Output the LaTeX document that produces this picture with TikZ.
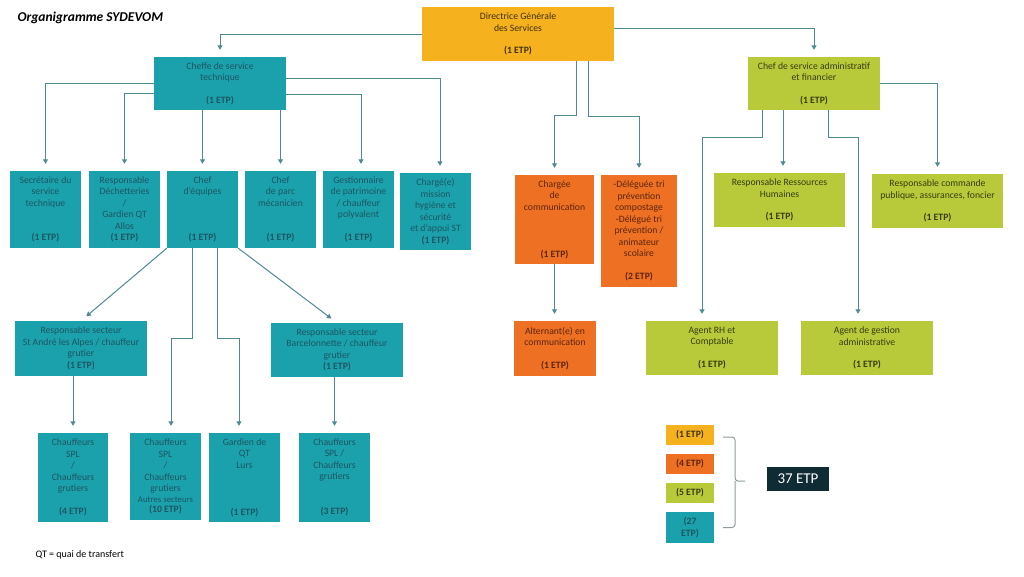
\documentclass[tikz,border=0pt]{standalone}
\usepackage{fontspec}
\setmainfont{Carlito}
\usetikzlibrary{arrows.meta}
\definecolor{dgs}{HTML}{F6B21E}
\definecolor{tech}{HTML}{1BA1AB}
\definecolor{comm}{HTML}{EE7023}
\definecolor{admin}{HTML}{B8CA3A}
\definecolor{total}{HTML}{0F2B33}
\definecolor{wire}{HTML}{4E8A93}
\definecolor{techink}{HTML}{1C5663}
\definecolor{commink}{HTML}{5C2510}
\definecolor{adminink}{HTML}{363D12}
\definecolor{dgsink}{HTML}{3D3012}
\definecolor{muted}{HTML}{8E9A9E}

\begin{document}
\begin{tikzpicture}[x=1pt,y=-1pt,font=\fontsize{9.7}{11.5}\selectfont,
    card/.style={inner sep=0pt,align=center},
    sz/.style 2 args={minimum width=#1,minimum height=#2},
    ybox/.style={card,fill=dgs,text=dgsink},
    tbox/.style={card,fill=tech,text=techink},
    obox/.style={card,fill=comm,text=commink},
    gbox/.style={card,fill=admin,text=adminink},
    legbox/.style={card,font=\fontsize{9.7}{11.5}\selectfont\bfseries,minimum width=48},
    feed/.style={draw=wire,line width=1pt,-{Triangle[length=4.5pt,width=5pt]},shorten >=7pt},
    brc/.style={draw=muted,line width=1pt,rounded corners=3pt}]
  \useasboundingbox (0,0) rectangle (1024,576);
  \node[anchor=west,font=\fontsize{13.5}{16}\selectfont\bfseries\itshape] (title) at (14,18) {Organigramme SYDEVOM};

  % direction
  \node[ybox,sz={192}{54}] (dir) at (518,34) {Directrice Générale\\des Services\\[11pt]\textbf{(1 ETP)}};
  \node[tbox,sz={132}{53}] (cheffe) at (220,83.5) {Cheffe de service\\technique\\[11pt]\textbf{(1 ETP)}};
  \node[gbox,sz={132}{53}] (adm) at (814,83.5) {Chef de service administratif\\et financier\\[11pt]\textbf{(1 ETP)}};

  % service technique
  \node[tbox,sz={71}{77}] (sec) at (45.5,209.5) {Secrétaire du\\service\\technique\\[23pt]\textbf{(1 ETP)}};
  \node[tbox,sz={71}{77}] (dech) at (124.5,209.5) {Responsable\\Déchetteries\\/\\Gardien QT\\Allos\\\textbf{(1 ETP)}};
  \node[tbox,sz={71}{77}] (equip) at (202.5,209.5) {Chef\\d'équipes\\[34.5pt]\textbf{(1 ETP)}};
  \node[tbox,sz={71}{77}] (parc) at (280.5,209.5) {Chef\\de parc\\mécanicien\\[23pt]\textbf{(1 ETP)}};
  \node[tbox,sz={71}{77}] (patri) at (358.5,209.5) {Gestionnaire\\de patrimoine\\/ chauffeur\\polyvalent\\[11.5pt]\textbf{(1 ETP)}};
  \node[tbox,sz={71}{77}] (hyg) at (435.5,211.5) {Chargé(e)\\mission\\hygiène et\\sécurité\\et d'appui ST\\\textbf{(1 ETP)}};

  \node[tbox,sz={132}{55}] (stand) at (81,348.5) {Responsable secteur\\St André les Alpes / chauffeur\\grutier\\\textbf{(1 ETP)}};
  \node[tbox,sz={132}{54}] (barc) at (337,350) {Responsable secteur\\Barcelonnette / chauffeur\\grutier\\\textbf{(1 ETP)}};
  \node[tbox,sz={70}{89}] (ch4) at (73,477.5) {Chauffeurs\\SPL\\/\\Chauffeurs\\grutiers\\[11.5pt]\textbf{(4 ETP)}};
  \node[tbox,sz={71}{87}] (ch10) at (165.5,476.5) {Chauffeurs\\SPL\\/\\Chauffeurs\\grutiers\\[-1pt]{\fontsize{8.8}{10}\selectfont Autres secteurs}\\[-1pt]\textbf{(10 ETP)}};
  \node[tbox,sz={71}{89}] (lurs) at (244.5,477.5) {Gardien de\\QT\\Lurs\\[35.5pt]\textbf{(1 ETP)}};
  \node[tbox,sz={71}{89}] (ch3) at (334.5,477.5) {Chauffeurs\\SPL /\\Chauffeurs\\grutiers\\[23.5pt]\textbf{(3 ETP)}};

  % communication / prevention
  \node[obox,sz={79}{89}] (comm) at (554.5,219.5) {Chargée\\de\\communication\\[35.5pt]\textbf{(1 ETP)}};
  \node[obox,sz={76}{112}] (tri) at (639,231) {-Déléguée tri\\prévention\\compostage\\-Délégué tri\\prévention /\\animateur\\scolaire\\[11.5pt]\textbf{(2 ETP)}};
  \node[obox,sz={82}{55}] (alt) at (555,348.5) {Alternant(e) en\\communication\\[11pt]\textbf{(1 ETP)}};

  % service administratif
  \node[gbox,sz={131}{54}] (rh) at (779.5,200) {Responsable Ressources\\Humaines\\[11pt]\textbf{(1 ETP)}};
  \node[gbox,sz={131}{54}] (cmd) at (937.5,201) {Responsable commande\\publique, assurances, foncier\\[11pt]\textbf{(1 ETP)}};
  \node[gbox,sz={132}{54}] (agrh) at (712,348) {Agent RH et\\Comptable\\[11pt]\textbf{(1 ETP)}};
  \node[gbox,sz={132}{54}] (agadm) at (867,348) {Agent de gestion\\administrative\\[11pt]\textbf{(1 ETP)}};

  % links
  \draw[feed] (dir.west) -| (cheffe.north);
  \draw[feed] ([yshift=6pt]dir.east) -| (adm.north);
  \draw[feed] ([xshift=58pt]dir.south) -- ++(0,54) -| (comm.north);
  \draw[feed] ([xshift=70pt]dir.south) -- ++(0,55) -| (tri.north);
  \draw[feed] (cheffe.west) -| (sec.north);
  \draw[feed] ([yshift=-9.5pt]cheffe.west) -| (dech.north);
  \draw[feed] (equip.north |- cheffe.south) -- (equip.north);
  \draw[feed] (parc.north |- cheffe.south) -- (parc.north);
  \draw[feed] ([yshift=-10.5pt]cheffe.east) -| ([xshift=2.5pt]patri.north);
  \draw[feed] ([yshift=5.5pt]cheffe.east) -| ([xshift=4.5pt]hyg.north);
  \draw[feed] (equip.south west) -- (stand.north);
  \draw[feed] (equip.south east) -- (barc.north);
  \draw[feed] ([xshift=-10.5pt]equip.south) -- ++(0,90) -| ([xshift=5.5pt]ch10.north);
  \draw[feed] ([xshift=14.5pt]equip.south) -- ++(0,90) -| ([xshift=-5.5pt]lurs.north);
  \draw[feed] (ch4.north |- stand.south) -- (ch4.north);
  \draw[feed] (ch3.north |- barc.south) -- (ch3.north);
  \draw[feed] (comm.south) -- (comm.south |- alt.north);
  \draw[feed] ([xshift=-31pt]adm.south) -- ([xshift=3.5pt]rh.north);
  \draw[feed] (adm.east) -| (cmd.north);
  \draw[feed] ([xshift=-52pt]adm.south) -- ++(0,27) -| ([xshift=-10pt]agrh.north);
  \draw[feed] ([xshift=14pt]adm.south) -- ++(0,27) -| ([xshift=-9pt]agadm.north);

  % totals
  \foreach \nm/\col/\ink/\yy/\hh/\txt in {l1/dgs/dgsink/435/20/{(1 ETP)}, l4/comm/commink/464/20/{(4 ETP)},
      l5/admin/adminink/493/20/{(5 ETP)}, l27/tech/techink/527.5/31/{(27\\ETP)}}
    \node[legbox,fill=\col,text=\ink,minimum height=\hh] (\nm) at (690,\yy) {\txt};
  \coordinate (tip) at (745,481);
  \draw[brc] ([xshift=9pt,yshift=-2pt]l1.east) -| ([xshift=-10pt]tip) -- (tip);
  \draw[brc] ([xshift=9pt]l27.east) -| ([xshift=-10pt]tip);
  \node[card,fill=total,text=white,font=\fontsize{15}{18}\selectfont,sz={62}{24}] (tot) at (798,479) {37 ETP};

  \node[anchor=west,font=\fontsize{10}{12}\selectfont] (qt) at (32,555) {QT = quai de transfert};
\end{tikzpicture}
\end{document}
